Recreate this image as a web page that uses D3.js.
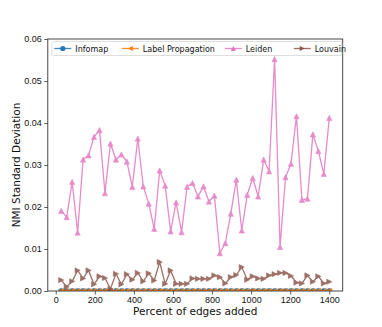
<!DOCTYPE html>
<html>
<head>
<meta charset="utf-8">
<script src="https://cdn.jsdelivr.net/npm/d3@7"></script>
<style>
  body { margin: 0; background: #fff; }
  svg { font-family: "DejaVu Sans", sans-serif; }
</style>
</head>
<body>
<div id="chart"></div>
<script>
const width = 382, height = 327
const margin = { top: 39, right: 39.3, bottom: 36, left: 47.8 }
const innerW = width - margin.left - margin.right,
  innerH = height - margin.top - margin.bottom

// percent of edges added
const edges = [28, 56, 84, 112, 140, 168, 196, 224, 252, 280, 308, 336, 364, 392, 420, 448, 476, 504, 532, 560,
  588, 616, 644, 672, 700, 728, 756, 784, 812, 840, 868, 896, 924, 952, 980, 1008, 1036, 1064, 1092, 1120,
  1148, 1176, 1204, 1232, 1260, 1288, 1316, 1344, 1372, 1400]

const infomap = [0, 0, 0, 0, 0, 0, 0, 0, 0, 0, 0, 0, 0, 0, 0, 0, 0, 0, 0, 0, 0, 0, 0, 0, 0,
  0, 0, 0, 0, 0, 0, 0, 0, 0, 0, 0, 0, 0, 0, 0, 0, 0, 0, 0, 0, 0, 0, 0, 0, 0]
const labelProp = [0, 0, 0, 0, 0, 0, 0, 0, 0, 0, 0, 0, 0, 0, 0, 0, 0, 0, 0, 0, 0, 0, 0, 0, 0,
  0, 0, 0, 0, 0, 0, 0, 0, 0, 0, 0, 0, 0, 0, 0, 0, 0, 0, 0, 0, 0, 0, 0, 0, 0]
const leiden = [0.0191, 0.0176, 0.0260, 0.0139, 0.0313, 0.0323, 0.0367, 0.0383, 0.0233, 0.0351,
  0.0313, 0.0325, 0.0308, 0.0248, 0.0363, 0.0249, 0.0208, 0.0148, 0.0287, 0.0251,
  0.0142, 0.0211, 0.0140, 0.0248, 0.0257, 0.0225, 0.0249, 0.0213, 0.0227, 0.0090,
  0.0114, 0.0184, 0.0265, 0.0144, 0.0229, 0.0269, 0.0225, 0.0313, 0.0285, 0.0552,
  0.0105, 0.0271, 0.0303, 0.0416, 0.0217, 0.0220, 0.0373, 0.0333, 0.0279, 0.0412]
const louvain = [0.0026, 0.0010, 0.0023, 0.0049, 0.0030, 0.0049, 0.0016, 0.0035, 0.0031, 0.0005,
  0.0041, 0.0016, 0.0040, 0.0027, 0.0043, 0.0023, 0.0042, 0.0025, 0.0069, 0.0017,
  0.0049, 0.0017, 0.0017, 0.0017, 0.0030, 0.0029, 0.0029, 0.0029, 0.0037, 0.0033,
  0.0018, 0.0033, 0.0038, 0.0057, 0.0027, 0.0035, 0.0030, 0.0029, 0.0037, 0.0040,
  0.0043, 0.0043, 0.0036, 0.0020, 0.0018, 0.0037, 0.0022, 0.0035, 0.0018, 0.0022]

const xTicks = [0, 200, 400, 600, 800, 1000, 1200, 1400]
const yTicks = [0, 0.01, 0.02, 0.03, 0.04, 0.05, 0.06]

const series = [
  { name: "Infomap", values: infomap, color: "#1f77b4", marker: "circle" },
  { name: "Label Propagation", values: labelProp, color: "#ff7f0e", marker: "left" },
  { name: "Leiden", values: leiden, color: "#e377c2", marker: "up" },
  { name: "Louvain", values: louvain, color: "#8c564b", marker: "right" }
]

const svg = d3.select("#chart").append("svg")
  .attr("width", width)
  .attr("height", height)

const g = svg.append("g")
  .attr("transform", `translate(${margin.left}, ${margin.top})`)

const x = d3.scaleLinear().domain([-40.6, 1468.6]).range([0, innerW])
const y = d3.scaleLinear().domain([0, 0.06]).range([innerH, 0])

g.append("clipPath").attr("id", "clip")
  .append("rect").attr("width", innerW).attr("height", innerH)

// marker shapes, half size r
function markerPath(type, r) {
  if (type == "up") return `M0,${-r}L${r},${r}L${-r},${r}Z`
  if (type == "right") return `M${r},0L${-r},${r}L${-r},${-r}Z`
  if (type == "left") return `M${-r},0L${r},${r}L${r},${-r}Z`
  return d3.symbol().type(d3.symbolCircle).size(Math.PI * r * r)()
}

const line = d3.line()
  .x((d) => x(d[0]))
  .y((d) => y(d[1]))

const plot = g.append("g").attr("clip-path", "url(#clip)")

series.forEach(function (s) {
  const pts = edges.map((e, i) => [e, s.values[i]])
  const sg = plot.append("g").style("opacity", s.name == "Leiden" || s.name == "Louvain" ? 0.85 : 1)
  sg.append("path")
    .datum(pts)
    .attr("fill", "none")
    .attr("stroke", s.color)
    .attr("stroke-width", 1.3)
    .attr("d", line)
  sg.selectAll("path.mk")
    .data(pts)
    .enter()
    .append("path")
    .attr("class", "mk")
    .attr("transform", (d) => `translate(${x(d[0])},${y(d[1])})`)
    .attr("d", markerPath(s.marker, 2.6))
    .attr("fill", s.color)
    .attr("stroke", s.color)
    .attr("stroke-width", 0.6)
})

// axes
const xAxis = g.append("g")
  .attr("transform", `translate(0, ${innerH})`)
  .call(d3.axisBottom(x).tickValues(xTicks).tickSize(3.5).tickPadding(2.5).tickFormat(d3.format("d")))
const yAxis = g.append("g")
  .call(d3.axisLeft(y).tickValues(yTicks).tickSize(3.5).tickPadding(2.5).tickFormat(d3.format(".2f")))

g.selectAll(".domain").remove()
g.selectAll(".tick line").attr("stroke", "#333").attr("stroke-width", 0.8)
g.selectAll(".tick text").attr("fill", "#111").style("font-size", "9px")

// spines
g.append("rect")
  .attr("width", innerW)
  .attr("height", innerH)
  .attr("fill", "none")
  .attr("stroke", "#333")
  .attr("stroke-width", 0.9)

// axis labels
g.append("text")
  .attr("x", innerW / 2)
  .attr("y", innerH + 23.5)
  .attr("text-anchor", "middle")
  .style("font-size", "10.5px")
  .attr("fill", "#111")
  .text("Percent of edges added")

g.append("text")
  .attr("transform", `translate(${-27.5}, ${innerH / 2}) rotate(-90)`)
  .attr("text-anchor", "middle")
  .style("font-size", "10.5px")
  .attr("fill", "#111")
  .text("NMI Standard Deviation")

// legend
const legend = g.append("g").attr("transform", "translate(4, 2.5)")
legend.append("rect")
  .attr("width", 290)
  .attr("height", 14)
  .attr("rx", 2)
  .attr("fill", "#fff")
  .attr("fill-opacity", 0.8)
  .attr("stroke", "#d6d6d6")
  .attr("stroke-width", 0.8)

const legendX = [2.5, 70, 173, 242]
series.forEach(function (s, i) {
  const lg = legend.append("g").attr("transform", `translate(${legendX[i]}, 7)`)
  lg.append("line")
    .attr("x1", 0).attr("x2", 17)
    .attr("stroke", s.color)
    .attr("stroke-width", 1.3)
    .style("opacity", 0.85)
  lg.append("path")
    .attr("transform", "translate(8.5,0)")
    .attr("d", markerPath(s.marker, 2.6))
    .attr("fill", s.color)
  lg.append("text")
    .attr("x", 21)
    .attr("y", 3)
    .style("font-size", "8px")
    .attr("fill", "#111")
    .text(s.name)
})
</script>
</body>
</html>
